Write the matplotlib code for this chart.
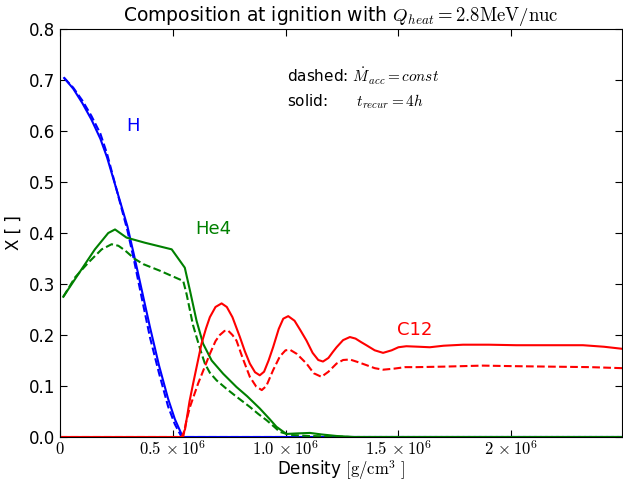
"""Composition at ignition vs density (H, He4, C12)."""

import matplotlib

matplotlib.use("Agg")
import matplotlib.pyplot as plt
from matplotlib.ticker import FixedLocator, FixedFormatter

plt.rcParams["mathtext.fontset"] = "cm"
plt.rcParams["font.family"] = "DejaVu Sans"

# density in units of 1e6 g/cm^3
h_rho_solid = [0.02, 0.06, 0.10, 0.14, 0.18, 0.21, 0.24, 0.27, 0.30, 0.33, 0.36, 0.40,
               0.44, 0.48, 0.51, 0.545, 1.0, 2.49]
h_x_solid = [0.704, 0.683, 0.655, 0.623, 0.585, 0.548, 0.503, 0.458, 0.413, 0.355, 0.295, 0.215,
             0.14, 0.075, 0.035, 0.0, 0.0, 0.0]
h_rho_dash = [0.02, 0.06, 0.10, 0.14, 0.18, 0.21, 0.24, 0.27, 0.30, 0.33, 0.36, 0.40,
              0.44, 0.48, 0.51, 0.54, 1.0, 2.49]
h_x_dash = [0.704, 0.685, 0.66, 0.63, 0.595, 0.555, 0.505, 0.455, 0.405, 0.345, 0.28, 0.195,
            0.125, 0.06, 0.025, 0.0, 0.0, 0.0]

he_rho_solid = [0.016, 0.082, 0.156, 0.215, 0.245, 0.296, 0.377, 0.496, 0.554, 0.577, 0.606,
                0.635, 0.673, 0.724, 0.783, 0.83, 0.886, 0.93, 0.96, 1.004, 1.05, 1.108,
                1.16, 1.226, 1.3, 2.49]
he_x_solid = [0.275, 0.319, 0.368, 0.40, 0.407, 0.391, 0.381, 0.368, 0.332, 0.287, 0.228,
              0.183, 0.150, 0.124, 0.098, 0.08, 0.056, 0.035, 0.02, 0.006, 0.007, 0.008,
              0.005, 0.002, 0.0, 0.0]
he_rho_dash = [0.016, 0.068, 0.127, 0.186, 0.23, 0.26, 0.289, 0.33, 0.37, 0.444, 0.547, 0.562,
               0.577, 0.59, 0.606, 0.625, 0.643, 0.665, 0.695, 0.74, 0.783, 0.842, 0.88,
               0.916, 0.95, 0.975, 1.02, 1.1, 1.3, 2.49]
he_x_dash = [0.275, 0.313, 0.342, 0.368, 0.378, 0.375, 0.366, 0.35, 0.339, 0.326, 0.306, 0.28,
             0.248, 0.22, 0.196, 0.168, 0.144, 0.126, 0.111, 0.094, 0.079, 0.059, 0.045,
             0.033, 0.02, 0.01, 0.004, 0.002, 0.0, 0.0]

c_rho_solid = [0.0, 0.5, 0.54, 0.555, 0.575, 0.591, 0.61, 0.628, 0.648, 0.665, 0.69, 0.717,
               0.74, 0.765, 0.798, 0.82, 0.842, 0.865, 0.886, 0.905, 0.925, 0.945, 0.97,
               0.99, 1.012, 1.04, 1.065, 1.093, 1.12, 1.145, 1.166, 1.19, 1.21, 1.226, 1.255,
               1.285, 1.31, 1.335, 1.358, 1.395, 1.432, 1.47, 1.5, 1.535, 1.59, 1.639, 1.7,
               1.786, 1.9, 2.022, 2.2, 2.317, 2.41, 2.49]
c_x_solid = [0.0, 0.0, 0.0, 0.015, 0.07, 0.105, 0.145, 0.183, 0.213, 0.235, 0.255, 0.262,
             0.255, 0.235, 0.196, 0.168, 0.144, 0.127, 0.121, 0.128, 0.15, 0.176, 0.212,
             0.232, 0.237, 0.228, 0.21, 0.189, 0.165, 0.151, 0.148, 0.155, 0.167, 0.176, 0.19,
             0.196, 0.193, 0.186, 0.18, 0.17, 0.165, 0.17, 0.176, 0.178, 0.177, 0.176, 0.179,
             0.181, 0.181, 0.18, 0.18, 0.18, 0.177, 0.173]
c_rho_dash = [0.0, 0.5, 0.547, 0.56, 0.577, 0.595, 0.613, 0.64, 0.665, 0.69, 0.709, 0.73,
              0.745, 0.765, 0.783, 0.81, 0.842, 0.87, 0.895, 0.915, 0.945, 0.975, 1.0, 1.02,
              1.05, 1.093, 1.125, 1.159, 1.19, 1.226, 1.255, 1.285, 1.32, 1.358, 1.395,
              1.432, 1.48, 1.53, 1.58, 1.7, 1.873, 2.0, 2.17, 2.35, 2.49]
c_x_dash = [0.0, 0.0, 0.0, 0.03, 0.059, 0.082, 0.105, 0.135, 0.163, 0.188, 0.2, 0.208,
            0.209, 0.2, 0.189, 0.155, 0.118, 0.099, 0.092, 0.1, 0.131, 0.158, 0.17, 0.171,
            0.163, 0.144, 0.125, 0.118, 0.128, 0.144, 0.151, 0.152, 0.147, 0.141, 0.135,
            0.132, 0.134, 0.137, 0.137, 0.138, 0.14, 0.139, 0.138, 0.137, 0.135]

x_ticks = [0.0, 0.5, 1.0, 1.5, 2.0]
x_tick_labels = ["$0$", r"$0.5\,\times10^6$", r"$1.0\,\times10^6$", r"$1.5\,\times10^6$",
                 r"$2\,\times10^6$"]
y_ticks = [0.0, 0.1, 0.2, 0.3, 0.4, 0.5, 0.6, 0.7, 0.8]

fig = plt.figure(figsize=(6.23, 4.84), dpi=100)
ax = fig.add_axes([0.0958, 0.0971, 0.9026, 0.8429])

lw = 1.5
ax.plot(h_rho_solid, h_x_solid, color="b", lw=lw)
ax.plot(h_rho_dash, h_x_dash, color="b", lw=lw, ls="--")
ax.plot(he_rho_solid, he_x_solid, color="g", lw=lw)
ax.plot(he_rho_dash, he_x_dash, color="g", lw=lw, ls="--")
ax.plot(c_rho_solid, c_x_solid, color="r", lw=lw)
ax.plot(c_rho_dash, c_x_dash, color="r", lw=lw, ls="--")

ax.text(0.324, 0.609, "H", color="b", fontsize=13, ha="center", va="center")
ax.text(0.68, 0.408, "He4", color="g", fontsize=13, ha="center", va="center")
ax.text(1.572, 0.209, "C12", color="r", fontsize=13, ha="center", va="center")
ax.text(1.006, 0.708, r"dashed: $\dot M_{acc}=const$", fontsize=11, va="center")
ax.text(1.006, 0.658, r"solid:      $t_{recur}=4h$", fontsize=11, va="center")

ax.set_xlim(0, 2.49)
ax.set_ylim(0, 0.8)
ax.xaxis.set_major_locator(FixedLocator(x_ticks))
ax.xaxis.set_major_formatter(FixedFormatter(x_tick_labels))
ax.set_yticks(y_ticks)
ax.tick_params(direction="in", top=True, right=True, length=5, labelsize=12)
ax.tick_params(axis="x", labelsize=12, pad=2)

ax.set_xlabel(r"Density $[\mathrm{g/cm^3}\ ]$", fontsize=12)
ax.xaxis.set_label_coords(0.5, -0.052)
ax.set_ylabel("X [ ]", fontsize=12)
ax.set_title(r"Composition at ignition with $Q_{heat}=2.8\mathrm{MeV/nuc}$", fontsize=13.5)

fig.savefig("out.png", dpi=100)
